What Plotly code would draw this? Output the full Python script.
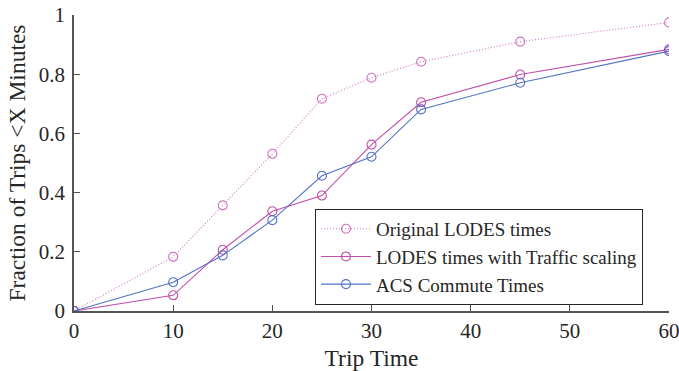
import plotly.graph_objects as go

# Cumulative share of trips shorter than X minutes
trip_time = [0, 10, 15, 20, 25, 30, 35, 45, 60]
original_lodes = [0, 0.183, 0.357, 0.531, 0.717, 0.788, 0.842, 0.910, 0.975]
lodes_traffic = [0, 0.053, 0.207, 0.337, 0.390, 0.562, 0.705, 0.799, 0.884]
acs_commute = [0, 0.097, 0.188, 0.307, 0.457, 0.521, 0.681, 0.771, 0.878]

series_names = ["Original LODES times", "LODES times with Traffic scaling", "ACS Commute Times"]
series_colors = ["#d173c3", "#c04fa7", "#5371c6"]
series_dash = ["1px,2px", "solid", "solid"]

x_ticks = [0, 10, 20, 30, 40, 50, 60]
y_ticks = [0, 0.2, 0.4, 0.6, 0.8, 1]
y_tick_text = ["0", "0.2", "0.4", "0.6", "0.8", "1"]

fig = go.Figure()
for name, ys, color, dash in zip(series_names, [original_lodes, lodes_traffic, acs_commute],
                                 series_colors, series_dash):
    fig.add_trace(go.Scatter(
        x=trip_time, y=ys, name=name, mode="lines+markers",
        line=dict(color=color, width=1.1, dash=dash),
        marker=dict(symbol="circle-open", size=9, color=color, line=dict(width=1.1, color=color)),
    ))

font_family = "Liberation Serif"
text_color = "#262626"
axis_common = dict(
    showline=True, linecolor="#555555", linewidth=1.5,
    ticks="inside", ticklen=6, tickwidth=1.2, tickcolor="#555555",
    showgrid=False, zeroline=False, automargin=False, ticklabeloverflow="allow",
    tickfont=dict(family=font_family, size=21, color=text_color),
)

fig.update_layout(
    width=679, height=371,
    margin=dict(l=74, r=10, t=15, b=60),
    paper_bgcolor="white", plot_bgcolor="white",
    font=dict(family=font_family, color=text_color),
    xaxis=dict(range=[0, 60], tickvals=x_ticks, **axis_common,
               title=dict(text="Trip Time", font=dict(family=font_family, size=23.5, color=text_color),
                          standoff=9)),
    yaxis=dict(range=[0, 1], tickvals=y_ticks, ticktext=y_tick_text, **axis_common,
               ticklabelstandoff=3,
               title=dict(text="Fraction of Trips &lt;X Minutes",
                          font=dict(family=font_family, size=23.5, color=text_color), standoff=7)),
    legend=dict(
        x=0.405, y=0.345, xanchor="left", yanchor="top",
        bgcolor="white", bordercolor=text_color, borderwidth=1,
        font=dict(family=font_family, size=19, color=text_color),
        tracegroupgap=0, itemwidth=50,
    ),
    showlegend=True,
)

fig.write_html("out.html")
